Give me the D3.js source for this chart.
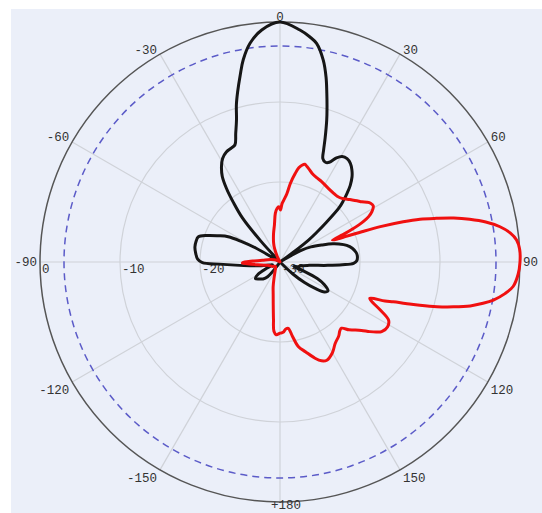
<!DOCTYPE html>
<html>
<head>
<meta charset="utf-8">
<script src="https://cdn.jsdelivr.net/npm/d3@7"></script>
<style>
  body { margin: 0; background: #fff; }
  text { font-family: "Liberation Mono", "DejaVu Sans Mono", monospace; font-size: 12.5px; fill: #333; }
</style>
</head>
<body>
<div id="chart"></div>
<script>
// radiation patterns: [angle in degrees, level in dB]
var blackPattern = [
  [-180,-30],[-160,-30],[-145,-29.5],[-140,-27.6],[-135,-27.0],[-130,-26.7],[-124,-26.3],[-119,-26.9],
  [-115,-28.2],[-111,-29],[-106,-28.6],[-101,-27.6],[-97,-26.2],[-94,-24.4],[-92,-22.4],[-90.5,-20.3],
  [-88,-19.7],[-84,-19.4],[-80,-19.2],[-76,-19.2],[-73,-19.3],[-70,-20.3],[-67,-21.6],[-64,-22.8],
  [-62,-24.5],[-60,-26.5],[-57,-30],[-45,-30],[-42.5,-26.5],[-40.5,-22.8],[-38,-20.5],[-36,-18.6],
  [-34,-17.1],[-31.5,-16],[-29,-15.2],[-26,-14.7],[-23,-14.5],[-21,-14.3],[-19,-13],[-17,-11.4],
  [-15.5,-9.6],[-14,-8.1],[-12,-6.1],[-10.3,-4.3],[-7.8,-2.4],[-4.5,-0.9],[0,0],[4.9,-0.9],
  [7.5,-1.6],[9.5,-2.3],[12.1,-4.2],[14,-6.2],[15.5,-8.1],[17,-9.9],[18.2,-11.3],[20,-13.5],
  [21.3,-15.0],[22.5,-16.0],[24.5,-16.3],[26.3,-16.1],[28.5,-15.2],[30.5,-14.7],[33,-14.6],[35.5,-14.85],
  [38,-15.4],[40.2,-16.05],[42.5,-17],[44.3,-18],[46,-19],[47.5,-20],[49.5,-22.4],[51,-24],
  [52.5,-25.5],[54,-28.2],[56,-30],[58.5,-30],[60,-28.3],[61.4,-26.9],[64,-25.7],[68,-24.3],
  [71,-23],[73,-22.3],[76,-21.4],[79.2,-20.8],[83,-20.4],[86,-20.3],[89,-20.4],[91,-20.8],
  [92.5,-22.2],[94,-24],[96.5,-26.3],[100,-27.3],[104,-27.6],[108,-28.2],[111,-26.8],[114,-24.9],
  [117,-23.8],[121,-23],[124,-23.3],[127,-24.5],[130,-26],[133,-27.8],[137,-30],[160,-30]
];

var redPattern = [
  [-180,-21.1],[-177,-20.9],[-175,-21.3],[-173.5,-22.8],[-171,-24.6],[-168,-25.9],[-164.5,-26.8],[-160,-27.8],
  [-150,-28.8],[-135,-29.2],[-120,-28.9],[-105,-28.4],[-97,-27.2],[-93,-25.9],[-91.5,-25.3],[-90,-25.6],
  [-88,-26.6],[-84,-27.8],[-75,-28.8],[-60,-29.6],[-40,-30],[-28,-29.5],[-22,-28.2],[-18.6,-27.5],
  [-13,-26.4],[-8.5,-25.3],[-5.5,-23.9],[-3.2,-23.3],[-1.2,-23.1],[0.5,-23.5],[2,-22.7],[4,-22.1],
  [5.8,-21.4],[7.5,-20.1],[9.8,-18.75],[11.3,-18],[12.8,-17.6],[14.3,-17.4],[15.8,-17.6],[17.8,-17.9],
  [19.8,-18.2],[23.5,-18.5],[27.6,-18.7],[33.5,-19.0],[38,-19.1],[41,-19.1],[44.2,-18.9],[47,-18.5],
  [49.3,-18.1],[51.5,-17.7],[53.7,-17.3],[55.5,-16.8],[57,-16.5],[59,-16.4],[61.3,-16.9],[62.9,-17.55],
  [64,-18.3],[64.8,-19.1],[65.6,-20.1],[66.3,-21.1],[67.3,-22.9],[68.2,-22.2],[68.8,-21.25],[69.3,-20.1],
  [69.7,-19.1],[70.6,-16.7],[71.9,-13.8],[73,-11.7],[74.4,-9.7],[75.8,-7.6],[77.3,-5.7],[79,-3.8],
  [80.9,-2.15],[82.8,-1.0],[84.7,-0.3],[87,0],[90,0],[93,-0.2],[96,-0.7],[98,-1.6],
  [100.1,-2.9],[101.5,-4.1],[103,-5.6],[104.5,-7.6],[105.9,-9.6],[107.2,-11.7],[108.3,-13.5],[109.4,-15],
  [110.4,-16],[112,-17.9],[113.5,-17.4],[115.6,-16.1],[118.2,-14.6],[121,-14.3],[124.4,-14.6],[126,-15.1],
  [127.8,-15.8],[130,-16.7],[132.2,-17.35],[134.5,-17.9],[137.1,-18.7],[139,-18.6],[141.5,-18.2],[145.9,-17.7],
  [150,-16.9],[154.5,-16.4],[157.2,-16.6],[160,-17.2],[164,-18.3],[167.8,-19.2],[170.5,-20.6],[172.9,-21.65],
  [175,-21.6],[177.5,-21.2]
];

var angleTicks = [0, 30, 60, 90, 120, 150, 180, -150, -120, -90, -60, -30];
var angleLabels = ["0", "30", "60", "90", "120", "150", "+180", "-150", "-120", "-90", "-60", "-30"];
var levelTicks = [0, -10, -20, -30];
var gridLevels = [-10, -20];
var halfPower = -3;

var width = 542, height = 513;
var cx = 280, cy = 262, radius = 240;

var svg = d3.select("#chart")
  .append("svg")
    .attr("width", width)
    .attr("height", height);

// panel background
svg.append("rect")
  .attr("x", 11).attr("y", 9)
  .attr("width", width - 11).attr("height", height - 9)
  .style("fill", "#ebeff9");

var g = svg.append("g")
  .attr("transform", "translate(" + cx + "," + cy + ")");

var r = d3.scaleLinear()
  .domain([-30, 0])
  .range([0, radius])
  .clamp(true);

var rad = function(d) { return d * Math.PI / 180; };

// spokes
g.selectAll(".spoke")
  .data(angleTicks)
  .enter()
  .append("line")
    .attr("x1", 0).attr("y1", 0)
    .attr("x2", function(d) { return radius * Math.sin(rad(d)); })
    .attr("y2", function(d) { return -radius * Math.cos(rad(d)); })
    .style("stroke", "#cfd2d8")
    .style("stroke-width", 1.2);

// level circles
g.selectAll(".ring")
  .data(gridLevels)
  .enter()
  .append("circle")
    .attr("r", function(d) { return r(d); })
    .style("fill", "none")
    .style("stroke", "#cfd2d8")
    .style("stroke-width", 1.2);

// -3 dB circle
g.append("circle")
  .attr("r", r(halfPower))
  .style("fill", "none")
  .style("stroke", "#5b5bc8")
  .style("stroke-width", 1.5)
  .style("stroke-dasharray", "7,5");

// outer circle
g.append("circle")
  .attr("r", r(0))
  .style("fill", "none")
  .style("stroke", "#555")
  .style("stroke-width", 1.5);

// level labels along the left horizontal axis
g.selectAll(".lvl")
  .data(levelTicks)
  .enter()
  .append("text")
    .attr("x", function(d) { return -r(d) + 2; })
    .attr("y", 11)
    .text(function(d) { return d; });

// angle labels
g.selectAll(".ang")
  .data(angleTicks)
  .enter()
  .append("text")
    .attr("x", function(d) {
      var x = radius * Math.sin(rad(d));
      if (d === 0) return x;
      if (d === 180) return x + 6;
      return d > 0 ? x + 3 : x - 3;
    })
    .attr("y", function(d) { return -radius * Math.cos(rad(d)); })
    .attr("dy", function(d) {
      var a = Math.abs(d);
      if (a === 90) return "0.35em";
      if (a === 180) return "0.55em";
      if (a > 90) return "0.95em";
      return "-0.05em";
    })
    .attr("text-anchor", function(d) {
      if (d === 0 || d === 180) return "middle";
      return d > 0 ? "start" : "end";
    })
    .text(function(d, i) { return angleLabels[i]; });

var line = d3.lineRadial()
  .angle(function(d) { return rad(d[0]); })
  .radius(function(d) { return r(d[1]); })
  .curve(d3.curveCatmullRomClosed.alpha(0.5));

g.append("path")
  .datum(blackPattern)
  .attr("d", line)
  .style("fill", "none")
  .style("stroke", "#161616")
  .style("stroke-width", 3)
  .style("stroke-linejoin", "round");

g.append("path")
  .datum(redPattern)
  .attr("d", line)
  .style("fill", "none")
  .style("stroke", "#f01010")
  .style("stroke-width", 3)
  .style("stroke-linejoin", "round");
</script>
</body>
</html>
